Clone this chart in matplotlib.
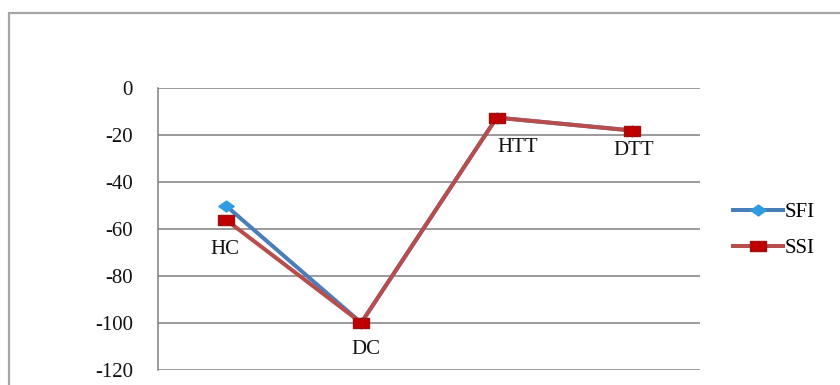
import matplotlib
matplotlib.use('Agg')
import matplotlib.pyplot as plt
from matplotlib.path import Path
from matplotlib.patches import Rectangle

categories = ['HC', 'DC', 'HTT', 'DTT']
sfi_values = [-50, -100, -12.5, -18]
ssi_values = [-56, -100, -12.5, -18]
y_ticks = [0, -20, -40, -60, -80, -100, -120]

# label offsets (pixels) from the SSI points
label_offsets = [(-1, -30), (5, -27), (21, -30), (1, -20)]

plt.rcParams['font.family'] = ['Liberation Serif', 'DejaVu Serif']

# wide markers, the chart is stretched sideways
square = Path([(-1.5, -1), (1.5, -1), (1.5, 1), (-1.5, 1), (-1.5, -1)],
              [Path.MOVETO, Path.LINETO, Path.LINETO, Path.LINETO, Path.CLOSEPOLY])
diamond = Path([(0, -1), (1.4, 0), (0, 1), (-1.4, 0), (0, -1)],
               [Path.MOVETO, Path.LINETO, Path.LINETO, Path.LINETO, Path.CLOSEPOLY])

W, H = 840, 385
fig = plt.figure(figsize=(W / 100, H / 100), dpi=100)
ax = fig.add_axes([158 / W, (H - 369.7) / H, 542 / W, 281.4 / H])

x = [i + 0.5 for i in range(len(categories))]
ax.plot(x, sfi_values, color='#4a7ebb', lw=2.9, marker=diamond, markersize=11,
        markerfacecolor='#2f9be0', markeredgecolor='#2f9be0', label='SFI', zorder=3)
ax.plot(x, ssi_values, color='#b84e4b', lw=2.9, marker=square, markersize=11.5,
        markerfacecolor='#c00000', markeredgecolor='#a01010', label='SSI', zorder=4)

for xi, yi, name, off in zip(x, ssi_values, categories, label_offsets):
    ax.annotate(name, (xi, yi), xytext=off, textcoords='offset pixels',
                ha='center', va='center', fontsize=15, color='#111111', zorder=5)

ax.set_xlim(0, len(categories))
ax.set_ylim(-120, 0)
ax.set_yticks(y_ticks)
ax.set_yticklabels([str(v) for v in y_ticks], fontsize=15, color='#111111')
ax.set_xticks([])
ax.tick_params(axis='y', length=0, pad=18)
ax.yaxis.grid(True, color='#808080', lw=1.1)
ax.set_axisbelow(True)
for side in ['top', 'right', 'bottom']:
    ax.spines[side].set_visible(False)
ax.spines['left'].set_color('#808080')
ax.spines['left'].set_linewidth(1.1)

fig.legend(loc='center left', bbox_to_anchor=(733 / W, (H - 230.5) / H),
           frameon=False, fontsize=15, handlelength=2.4, handletextpad=0.1,
           labelspacing=0.8, borderpad=0, borderaxespad=0)

# outer chart border
fig.patches.append(Rectangle((9 / W, -0.1), 1.2, (H - 13.3) / H + 0.1,
                             transform=fig.transFigure, fill=False,
                             ec='#a6a6a6', lw=1.6))

fig.savefig('out.png', dpi=100)
